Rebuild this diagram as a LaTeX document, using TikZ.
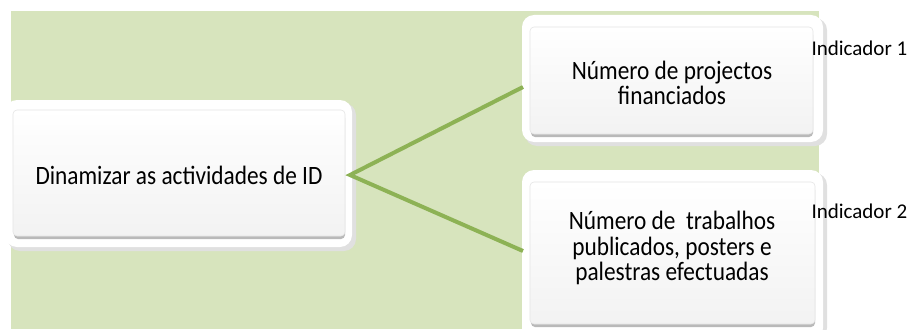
\documentclass[tikz,border=0pt]{standalone}
\usepackage{fontspec}
\setmainfont{Carlito}
\newfontfamily\boxfont[FakeStretch=0.88]{Carlito}
\definecolor{bggreen}{HTML}{D7E4BD}
\definecolor{linegreen}{HTML}{8DB255}
\tikzset{
  outerbox/.style={fill=white, rounded corners=12pt, draw=none},
  outershadow/.style={fill=black!12, rounded corners=12pt, draw=none},
  innershadow/.style={fill=gray!55, rounded corners=4pt},
  innerbox/.style={rounded corners=4pt, top color=white, bottom color=gray!10, draw=gray!20, line width=0.6pt},
  boxtext/.style={font=\boxfont\fontsize{26.5}{25.5}\selectfont, align=center, text=black},
  conn/.style={draw=linegreen, line width=4pt},
  indtext/.style={font=\fontsize{21}{24}\selectfont, anchor=west, text=black}
}
\begin{document}
\begin{tikzpicture}[x=1pt,y=-1pt]
\useasboundingbox (0,0) rectangle (912,329);
\fill[bggreen] (11,11) rectangle (819,329);
% left box
\fill[outershadow] (8,103) rectangle (356,251);
\fill[outerbox] (5,100) rectangle (352,247);
\fill[innershadow] (14,114) rectangle (345,239);
\shade[innerbox] (13,110) rectangle (345,236);
\node[boxtext] (a) at (179,175) {Dinamizar as actividades de ID};
% top right
\fill[outershadow] (525,18) rectangle (827,146);
\fill[outerbox] (522,15) rectangle (823,142);
\fill[innershadow] (531,31) rectangle (813,137);
\shade[innerbox] (530,27) rectangle (813,134);
\node[boxtext] (b) at (672,83) {Número de projectos\\financiados};
% bottom right
\fill[outershadow] (525,173) rectangle (827,340);
\fill[outerbox] (522,170) rectangle (823,340);
\fill[innershadow] (531,186) rectangle (815,327);
\shade[innerbox] (530,182) rectangle (815,324);
\node[boxtext] (c) at (672,248) {Número de\ \ trabalhos\\publicados, posters e\\palestras efectuadas};
% connectors
\coordinate (hub) at (350,175);
\coordinate (t1) at (523,87);
\coordinate (t2) at (523,251);
\draw[conn] (t1) -- (hub) -- (t2);
\node[indtext] (i1) at (808,48) {Indicador 1};
\node[indtext] (i2) at (808,211) {Indicador 2};
\end{tikzpicture}
\end{document}
